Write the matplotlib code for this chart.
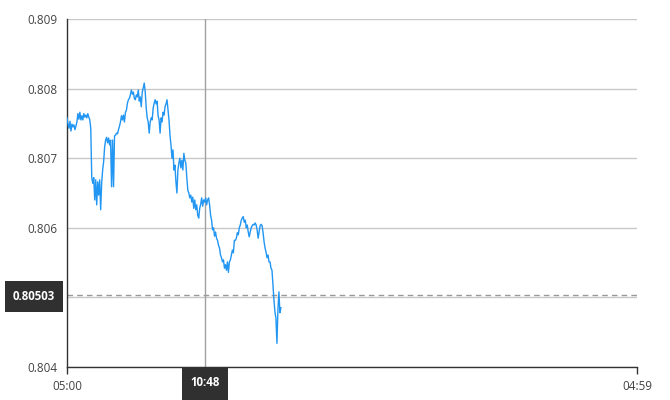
import matplotlib
matplotlib.use("Agg")
import matplotlib.pyplot as plt
from matplotlib.patches import Rectangle
import pandas as pd

plt.rcParams['font.family'] = ['Open Sans', 'DejaVu Sans']

# ---- data ----
start_time = "2024-01-01 05:00"
end_time = "2024-01-02 04:59"
step = "150s"
values = [
    0.80758, 0.80749, 0.80743, 0.80753, 0.80739, 0.80749, 0.80745, 0.80748, 0.80741, 0.80746,
    0.80752, 0.80764, 0.80756, 0.80766, 0.80755, 0.80761, 0.80755, 0.80764, 0.80759, 0.80762,
    0.80758, 0.80764, 0.80759, 0.80755, 0.80743, 0.80672, 0.80664, 0.80672, 0.80640, 0.80669,
    0.80633, 0.80666, 0.80647, 0.80669, 0.80626, 0.80664, 0.80683, 0.80695, 0.80716, 0.80726,
    0.80730, 0.80722, 0.80729, 0.80719, 0.80726, 0.80659, 0.80726, 0.80659, 0.80732, 0.80733,
    0.80736, 0.80735, 0.80741, 0.80746, 0.80752, 0.80761, 0.80755, 0.80762, 0.80752, 0.80766,
    0.80769, 0.80779, 0.80784, 0.80786, 0.80791, 0.80798, 0.80792, 0.80795, 0.80786, 0.80784,
    0.80791, 0.80788, 0.80798, 0.80782, 0.80788, 0.80774, 0.80795, 0.80801, 0.80808, 0.80795,
    0.80772, 0.80758, 0.80752, 0.80736, 0.80752, 0.80758, 0.80755, 0.80772, 0.80779, 0.80784,
    0.80778, 0.80782, 0.80761, 0.80755, 0.80736, 0.80758, 0.80752, 0.80766, 0.80762, 0.80774,
    0.80778, 0.80784, 0.80769, 0.80755, 0.80733, 0.80719, 0.80700, 0.80712, 0.80683, 0.80690,
    0.80666, 0.80650, 0.80683, 0.80693, 0.80700, 0.80686, 0.80697, 0.80683, 0.80707, 0.80697,
    0.80693, 0.80672, 0.80654, 0.80650, 0.80643, 0.80647, 0.80637, 0.80644, 0.80628, 0.80640,
    0.80626, 0.80633, 0.80618, 0.80614, 0.80628, 0.80634, 0.80643, 0.80631, 0.80640, 0.80637,
    0.80643, 0.80633, 0.80640, 0.80643, 0.80633, 0.80618, 0.80611, 0.80597, 0.80600, 0.80588,
    0.80594, 0.80585, 0.80582, 0.80575, 0.80571, 0.80561, 0.80557, 0.80551, 0.80554, 0.80542,
    0.80547, 0.80539, 0.80551, 0.80536, 0.80551, 0.80554, 0.80561, 0.80568, 0.80564, 0.80582,
    0.80582, 0.80585, 0.80593, 0.80590, 0.80600, 0.80604, 0.80611, 0.80614, 0.80616, 0.80608,
    0.80611, 0.80600, 0.80604, 0.80594, 0.80587, 0.80594, 0.80600, 0.80603, 0.80605, 0.80604,
    0.80607, 0.80604, 0.80597, 0.80585, 0.80594, 0.80603, 0.80605, 0.80603, 0.80593, 0.80580,
    0.80571, 0.80565, 0.80557, 0.80561, 0.80551, 0.80551, 0.80542, 0.80539, 0.80518, 0.80496,
    0.80479, 0.80470, 0.80434, 0.80482, 0.80508, 0.80478, 0.80485,
]
y_ticks = [0.804, 0.805, 0.806, 0.807, 0.808, 0.809]
# the 0.805 label sits under the crosshair value box in the reference
y_tick_labels = ["0.804", "", "0.806", "0.807", "0.808", "0.809"]
x_tick_labels = ["05:00", "04:59"]
cross_time = "2024-01-01 10:48"
cross_time_label = "10:48"
cross_value = 0.80503
cross_value_label = "0.80503"

times = pd.date_range(start=start_time, periods=len(values), freq=step)
t0 = pd.Timestamp(start_time)
t1 = pd.Timestamp(end_time)

# ---- figure ----
fig = plt.figure(figsize=(6.7, 4.0), dpi=100)
ax = fig.add_axes([67/670, 1-367/400, 570/670, 348/400])

ax.plot(times, values, color="#2196F3", lw=1.0, zorder=3)

ax.set_xlim(t0, t1)
ax.set_ylim(0.804, 0.809)
ax.set_yticks(y_ticks)
ax.set_yticklabels(y_tick_labels)
ax.set_xticks([t0, t1])
ax.set_xticklabels(x_tick_labels)

ax.grid(axis="y", color="#c8c8c8", lw=1)
ax.set_axisbelow(True)
for s in ["top", "right"]:
    ax.spines[s].set_visible(False)
for s in ["left", "bottom"]:
    ax.spines[s].set_color("#333333")
    ax.spines[s].set_linewidth(1)
ax.tick_params(axis="y", length=0, pad=7, labelsize=8.4, labelcolor="#444444")
ax.tick_params(axis="x", length=5, width=1, color="#333333", pad=4, labelsize=8.4, labelcolor="#444444")

# crosshair
ax.axvline(pd.Timestamp(cross_time), color="#a0a0a0", lw=1, zorder=2)
ax.axhline(cross_value, color="#999999", lw=1, ls=(0, (4, 3)), zorder=2)

# value label box (left)
fig.patches.append(Rectangle((5/670, 1-312/400), 58/670, 31/400, transform=fig.transFigure,
                             facecolor="#303030", edgecolor="none", zorder=5))
fig.text(34/670, 1-296.5/400, cross_value_label, color="white", fontsize=8.3, fontweight="bold",
         ha="center", va="center", zorder=6)
# time label box (bottom)
fig.patches.append(Rectangle((182/670, 0), 46/670, 32/400, transform=fig.transFigure,
                             facecolor="#303030", edgecolor="none", zorder=5))
fig.text(205/670, 1-382/400, cross_time_label, color="white", fontsize=8.3, fontweight="bold",
         ha="center", va="center", zorder=6)

fig.savefig("out.png", dpi=100)
